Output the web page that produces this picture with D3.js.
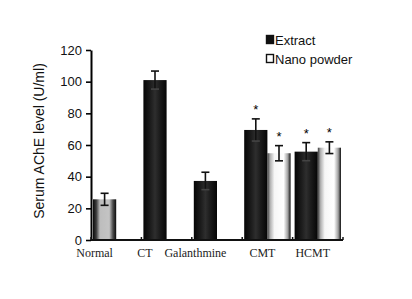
<!DOCTYPE html>
<html>
<head>
<meta charset="utf-8">
<script src="https://cdn.jsdelivr.net/npm/d3@7"></script>
<style>
  body { margin: 0; background: #fff; }
  svg { display: block; }
</style>
</head>
<body>
<div id="chart"></div>
<script>
// Data
var categories = ["Normal", "CT", "Galanthmine", "CMT", "HCMT"];
var seriesNames = ["Extract", "Nano powder"];
var extractValues = [25.7, 101, 37.3, 69.5, 55.8];
var extractErrors = [3.8, 5.7, 5.5, 7.0, 5.7];
var nanoValues = [null, null, null, 54.8, 58.3];
var nanoErrors = [null, null, null, 4.8, 3.7];
var extractStars = [false, false, false, true, true];
var nanoStars = [false, false, false, true, true];
var yTicks = [0, 20, 40, 60, 80, 100, 120];

var width = 412, height = 299;

var svg = d3.select("#chart")
    .append("svg")
    .attr("width", width)
    .attr("height", height);

// Bar fills (scanned look: dark edges, lighter centre)
var defs = svg.append("defs");
function grad(id, stops) {
    var g = defs.append("linearGradient").attr("id", id)
        .attr("x1", "0").attr("x2", "1").attr("y1", "0").attr("y2", "0");
    stops.forEach(function(s) {
        g.append("stop").attr("offset", s[0]).attr("stop-color", s[1]);
    });
}
grad("gNormal", [[0, "#0a0a0a"], [0.14, "#3a3a3a"], [0.3, "#bdbdbd"], [0.7, "#c4c4c4"], [0.86, "#4a4a4a"], [1, "#0a0a0a"]]);
grad("gExtract", [[0, "#050505"], [0.3, "#1c1c1c"], [0.5, "#2e2e2e"], [0.7, "#1c1c1c"], [1, "#050505"]]);
grad("gNano", [[0, "#3a3a3a"], [0.12, "#b0b0b0"], [0.3, "#f6f6f6"], [0.7, "#ffffff"], [0.88, "#a0a0a0"], [1, "#111"]]);

// Scales
var x = d3.scaleBand()
    .domain(categories)
    .range([91, 343])
    .padding(0);

var sub = d3.scaleBand()
    .domain(seriesNames)
    .range([2, x.bandwidth() - 2]);

var y = d3.scaleLinear()
    .domain([0, 120])
    .range([240, 50]);

// Build bar list
var bars = [];
categories.forEach(function(c, i) {
    bars.push({cat: c, series: "Extract", value: extractValues[i], err: extractErrors[i], star: extractStars[i],
        fill: i === 0 ? "url(#gNormal)" : "url(#gExtract)"});
    if (nanoValues[i] != null) {
        bars.push({cat: c, series: "Nano powder", value: nanoValues[i], err: nanoErrors[i], star: nanoStars[i],
            fill: "url(#gNano)"});
    }
});

function barX(d) { return x(d.cat) + sub(d.series); }
function barMid(d) { return barX(d) + sub.bandwidth() / 2; }

// Bars
svg.append("g").selectAll("rect")
    .data(bars)
    .enter().append("rect")
    .attr("x", barX)
    .attr("y", function(d) { return y(d.value); })
    .attr("width", sub.bandwidth())
    .attr("height", function(d) { return y(0) - y(d.value); })
    .attr("fill", function(d) { return d.fill; });

// Error bars
var eb = svg.append("g").attr("stroke", "#111").attr("stroke-width", 1.6);
bars.forEach(function(d) {
    var cx = barMid(d);
    eb.append("line")
        .attr("x1", cx).attr("x2", cx)
        .attr("y1", y(d.value - d.err)).attr("y2", y(d.value + d.err));
    eb.append("line")
        .attr("x1", cx - 4).attr("x2", cx + 4)
        .attr("y1", y(d.value + d.err)).attr("y2", y(d.value + d.err));
    eb.append("line")
        .attr("x1", cx - 4).attr("x2", cx + 4)
        .attr("y1", y(d.value - d.err)).attr("y2", y(d.value - d.err))
        .attr("stroke", d.series === "Extract" && d.cat !== "Normal" ? "#444" : "#111");
});

// Significance stars
svg.append("g").selectAll("text")
    .data(bars.filter(function(d) { return d.star; }))
    .enter().append("text")
    .attr("x", barMid)
    .attr("y", function(d) { return y(d.value + d.err) - 5; })
    .attr("text-anchor", "middle")
    .style("font-family", "Liberation Sans, Arial, sans-serif")
    .style("font-size", "13px")
    .text("*");

// Y axis
var yAxis = svg.append("g")
    .attr("transform", "translate(91,0)")
    .call(d3.axisLeft(y).tickValues(yTicks).tickSize(5).tickSizeOuter(0).tickPadding(4));
yAxis.select(".domain").attr("stroke-width", 2);
yAxis.selectAll(".tick line").attr("stroke-width", 1.6);
yAxis.selectAll(".tick text")
    .style("font-family", "Liberation Sans, Arial, sans-serif")
    .style("font-size", "13px")
    .attr("fill", "#111");

// X axis line with ticks at band edges
var xa = svg.append("g");
xa.append("line")
    .attr("x1", x.range()[0]).attr("x2", x.range()[1])
    .attr("y1", y(0)).attr("y2", y(0))
    .attr("stroke", "#111").attr("stroke-width", 2);
xa.selectAll(".edge")
    .data(categories.map(function(c) { return x(c); }).concat([x.range()[1]]))
    .enter().append("line")
    .attr("x1", function(d) { return d; }).attr("x2", function(d) { return d; })
    .attr("y1", y(0)).attr("y2", y(0) - 3)
    .attr("stroke", "#111").attr("stroke-width", 1.5);

// Category labels
xa.selectAll("text")
    .data(categories)
    .enter().append("text")
    .attr("x", function(c, i) {
        return nanoValues[i] != null ? x(c) + x.bandwidth() / 2 - 5
            : x(c) + sub("Extract") + sub.bandwidth() / 2 - 10;
    })
    .attr("y", 257)
    .attr("text-anchor", "middle")
    .style("font-family", "Liberation Serif, Times New Roman, serif")
    .style("font-size", "12px")
    .attr("fill", "#222")
    .text(function(c) { return c; });

// Y axis title
svg.append("text")
    .attr("transform", "translate(44,141) rotate(-90)")
    .attr("text-anchor", "middle")
    .style("font-family", "Liberation Sans, Arial, sans-serif")
    .style("font-size", "14px")
    .attr("fill", "#111")
    .text("Serum AChE level (U/ml)");

// Legend
var legend = svg.append("g");
var legendFill = ["#111", "#fff"];
seriesNames.forEach(function(s, i) {
    var ly = 40 + i * 19;
    legend.append("rect")
        .attr("x", 266.5).attr("y", ly - 4.5)
        .attr("width", 7).attr("height", 8)
        .attr("fill", legendFill[i])
        .attr("stroke", "#111").attr("stroke-width", 1.4);
    legend.append("text")
        .attr("x", 275).attr("y", ly + 4.5)
        .style("font-family", "Liberation Sans, Arial, sans-serif")
        .style("font-size", "13px")
        .attr("fill", "#111")
        .text(s);
});
</script>
</body>
</html>
